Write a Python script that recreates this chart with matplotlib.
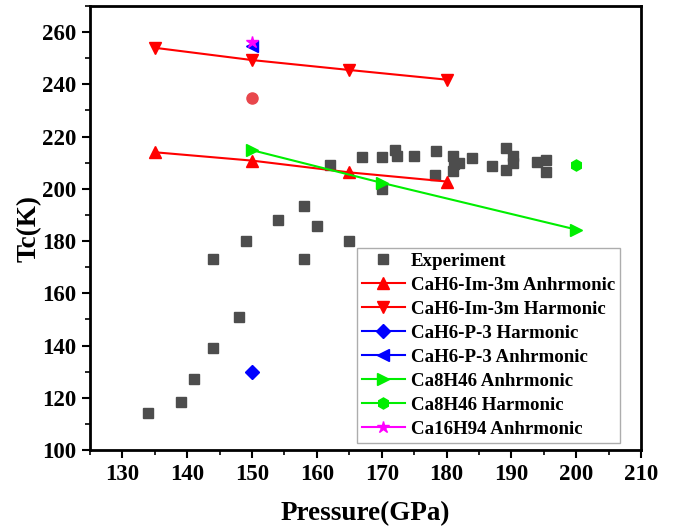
import numpy as np
import matplotlib.pyplot as plt
from matplotlib.ticker import MultipleLocator

plt.rcParams['font.family'] = ['Liberation Serif', 'DejaVu Serif']
plt.rcParams['font.weight'] = 'bold'

# experimental points
exp_p = [134, 139, 141, 144, 148, 144, 149, 154, 158, 160, 158, 165,
         162, 167, 170, 172, 172.3, 175, 178.3, 178.2, 170, 181, 181.2, 182,
         181, 184, 187, 189.2, 190.2, 190.2, 189.2, 194, 195.3, 195.3]
exp_tc = [114, 118.5, 127, 139, 151, 173, 180, 188, 193.5, 185.6, 173, 180,
          209, 212, 212, 215, 212.4, 212.4, 214.5, 205.2, 200, 212.6, 209.4, 209.8,
          206.9, 211.7, 208.8, 215.8, 212.4, 209.8, 207.3, 210.1, 211.1, 206.6]

# CaH6 Im-3m
im3m_p = [135, 150, 165, 180]
im3m_anh = [214, 210.8, 206.3, 202.8]
im3m_harm = [254, 249.3, 245.5, 241.8]

# CaH6 P-3
p3_p = [150]
p3_harm = [130]
p3_anh = [254.6]

# Ca8H46
ca8_p = [150, 170, 200]
ca8_anh = [214.8, 202.3, 184.4]
ca8_harm_p = [200]
ca8_harm = [209]

# Ca16H94
ca16_p = [150]
ca16_anh = [256.3]

# extra red point
extra_p = [150]
extra_tc = [234.7]

fig = plt.figure(figsize=(6.75, 5.31), dpi=100)
ax = fig.add_axes([90 / 675, 1 - 450 / 531, 551 / 675, 444 / 531])

ax.plot(exp_p, exp_tc, ls='none', marker='s', ms=7, color='#4d4d4d', label='Experiment')
ax.plot(im3m_p, im3m_anh, '-', marker='^', ms=9, lw=1.5, color='red', label='CaH6-Im-3m Anhrmonic')
ax.plot(im3m_p, im3m_harm, '-', marker='v', ms=9, lw=1.5, color='red', label='CaH6-Im-3m Harmonic')
ax.plot(p3_p, p3_harm, '-', marker='D', ms=7, lw=1.5, color='blue', label='CaH6-P-3 Harmonic')
ax.plot(p3_p, p3_anh, '-', marker='<', ms=8, lw=1.5, color='blue', label='CaH6-P-3 Anhrmonic')
ax.plot(ca8_p, ca8_anh, '-', marker='>', ms=9, lw=1.5, color='#00ee00', label='Ca8H46 Anhrmonic')
ax.plot(ca8_harm_p, ca8_harm, '-', marker='h', ms=8, lw=1.5, color='#00ee00', label='Ca8H46 Harmonic')
ax.plot(ca16_p, ca16_anh, '-', marker='*', ms=9, lw=1.5, color='magenta', label='Ca16H94 Anhrmonic')
ax.plot(extra_p, extra_tc, ls='none', marker='o', ms=8, color='#e8474c')

ax.set_xlim(125, 210)
ax.set_ylim(100, 270)
ax.xaxis.set_major_locator(MultipleLocator(10))
ax.xaxis.set_minor_locator(MultipleLocator(5))
ax.yaxis.set_major_locator(MultipleLocator(20))
ax.yaxis.set_minor_locator(MultipleLocator(10))
ax.set_yticks(np.arange(100, 261, 20))
ax.tick_params(which='major', direction='out', length=6, width=1.5, labelsize=16.5, pad=4)
ax.tick_params(which='minor', direction='out', length=3.5, width=1.2)
for s in ax.spines.values():
    s.set_linewidth(2)

ax.set_xlabel('Pressure(GPa)', fontsize=19.5, fontweight='bold', labelpad=12)
ax.set_ylabel('Tc(K)', fontsize=19.5, fontweight='bold', labelpad=0)

leg = ax.legend(loc='upper left', bbox_to_anchor=(357 / 675, 1 - 248 / 531),
                bbox_transform=fig.transFigure, borderaxespad=0,
                prop={'size': 13.6, 'weight': 'bold'}, fancybox=False,
                edgecolor='#999999', labelspacing=0.36, handlelength=2.3,
                handletextpad=0.3, borderpad=0.25)
leg.get_frame().set_linewidth(1)

fig.savefig('out.png', dpi=100)
